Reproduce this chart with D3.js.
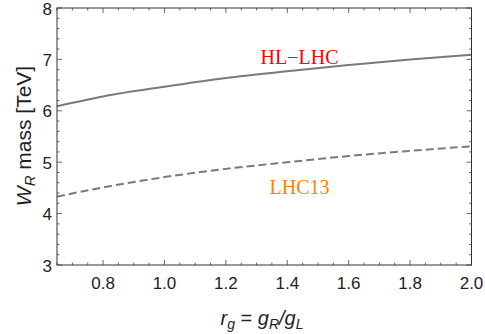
<!DOCTYPE html>
<html>
<head>
<meta charset="utf-8">
<script src="https://cdn.jsdelivr.net/npm/d3@7"></script>
<style>
  body { margin: 0; background: #fff; }
  svg { display: block; }
</style>
</head>
<body>
<div class="chart"></div>
<script>
// values
const rg = [0.65, 0.8, 1.0, 1.2, 1.4, 1.6, 1.8, 2.0];
const hlLhc = [6.09, 6.28, 6.47, 6.64, 6.77, 6.89, 7.00, 7.09];
const lhc13 = [4.33, 4.51, 4.71, 4.87, 5.00, 5.12, 5.22, 5.31];
const xTicks = [0.8, 1.0, 1.2, 1.4, 1.6, 1.8, 2.0];
const yTicks = [3, 4, 5, 6, 7, 8];

const WIDTH = 485, HEIGHT = 334;
const margin = {left: 57, right: 13.5, top: 8, bottom: 69};
const w = WIDTH - margin.left - margin.right;
const h = HEIGHT - margin.top - margin.bottom;

const svg = d3.select('.chart').append('svg')
  .attr('width', WIDTH).attr('height', HEIGHT);

const chart = svg.append('g')
  .attr('transform', `translate(${margin.left},${margin.top})`);

const x = d3.scaleLinear().domain([0.65, 2.0]).range([0, w]);
const y = d3.scaleLinear().domain([3, 8]).range([h, 0]);

const tickColor = '#444';
const minorX = d3.range(0.65, 2.0001, 0.05).map(v => +v.toFixed(2));
const minorY = d3.range(3, 8.0001, 0.2).map(v => +v.toFixed(1));

// ticks on all four sides, pointing inward
function ticks(g, vals, isMajor) {
  const len = isMajor ? 5 : 2.5;
  vals.forEach(v => {
    const px = x(v);
    g.append('line').attr('x1', px).attr('x2', px).attr('y1', h).attr('y2', h - len);
    g.append('line').attr('x1', px).attr('x2', px).attr('y1', 0).attr('y2', len);
  });
}
function yticks(g, vals, isMajor) {
  const len = isMajor ? 5 : 2.5;
  vals.forEach(v => {
    const py = y(v);
    g.append('line').attr('x1', 0).attr('x2', len).attr('y1', py).attr('y2', py);
    g.append('line').attr('x1', w).attr('x2', w - len).attr('y1', py).attr('y2', py);
  });
}
const tg = chart.append('g').attr('stroke', tickColor).attr('stroke-width', 0.8);
ticks(tg, minorX.filter(v => !xTicks.some(t => Math.abs(t - v) < 1e-6)), false);
ticks(tg, xTicks, true);
yticks(tg, minorY.filter(v => !yTicks.some(t => Math.abs(t - v) < 1e-6)), false);
yticks(tg, yTicks, true);

// lines
const line = d3.line().x(d => x(d[0])).y(d => y(d[1])).curve(d3.curveMonotoneX);

chart.append('path')
  .datum(rg.map((r, i) => [r, hlLhc[i]]))
  .attr('d', line)
  .attr('fill', 'none')
  .attr('stroke', '#7a7a7a')
  .attr('stroke-width', 2);

chart.append('path')
  .datum(rg.map((r, i) => [r, lhc13[i]]))
  .attr('d', line)
  .attr('fill', 'none')
  .attr('stroke', '#7a7a7a')
  .attr('stroke-width', 2)
  .attr('stroke-dasharray', '8,4');

// frame
chart.append('rect')
  .attr('x', 0).attr('y', 0).attr('width', w).attr('height', h)
  .attr('fill', 'none').attr('stroke', '#333').attr('stroke-width', 1);

// tick labels
const font = 'Liberation Sans, Arial, sans-serif';
chart.append('g').selectAll('text')
  .data(xTicks).enter().append('text')
  .attr('x', d => x(d)).attr('y', h + 24)
  .attr('text-anchor', 'middle')
  .attr('font-family', font).attr('font-size', 17).attr('fill', '#222')
  .text(d => d.toFixed(1));

chart.append('g').selectAll('text')
  .data(yTicks).enter().append('text')
  .attr('x', -5).attr('y', d => y(d) + 6.5)
  .attr('text-anchor', 'end')
  .attr('font-family', font).attr('font-size', 17).attr('fill', '#222')
  .text(d => d);

// axis titles
const xt = svg.append('text')
  .attr('x', 262).attr('y', 325)
  .attr('text-anchor', 'middle')
  .attr('font-family', font).attr('font-size', 20).attr('fill', '#222');
xt.append('tspan').attr('font-style', 'italic').text('r');
xt.append('tspan').attr('font-style', 'italic').attr('font-size', 14).attr('dy', 4).text('g');
xt.append('tspan').attr('dy', -4).text(' = ');
xt.append('tspan').attr('font-style', 'italic').text('g');
xt.append('tspan').attr('font-style', 'italic').attr('font-size', 14).attr('dy', 4).text('R');
xt.append('tspan').attr('font-style', 'italic').attr('dy', -4).text('/g');
xt.append('tspan').attr('font-style', 'italic').attr('font-size', 14).attr('dy', 4).text('L');

const yt = svg.append('text')
  .attr('transform', 'translate(31,136) rotate(-90)')
  .attr('text-anchor', 'middle')
  .attr('font-family', font).attr('font-size', 21).attr('fill', '#222');
yt.append('tspan').attr('font-style', 'italic').text('W');
yt.append('tspan').attr('font-style', 'italic').attr('font-size', 15).attr('dy', 4).text('R');
yt.append('tspan').attr('dy', -4).text(' mass [TeV]');

// curve labels
chart.append('text')
  .attr('x', x(1.44)).attr('y', y(6.92))
  .attr('text-anchor', 'middle')
  .attr('font-family', 'Liberation Serif, Times New Roman, serif')
  .attr('font-size', 20).attr('fill', '#ff0000')
  .text('HL\u2212LHC');

chart.append('text')
  .attr('x', x(1.44)).attr('y', y(4.38))
  .attr('text-anchor', 'middle')
  .attr('font-family', 'Liberation Serif, Times New Roman, serif')
  .attr('font-size', 20).attr('fill', '#ff8000')
  .text('LHC13');
</script>
</body>
</html>
